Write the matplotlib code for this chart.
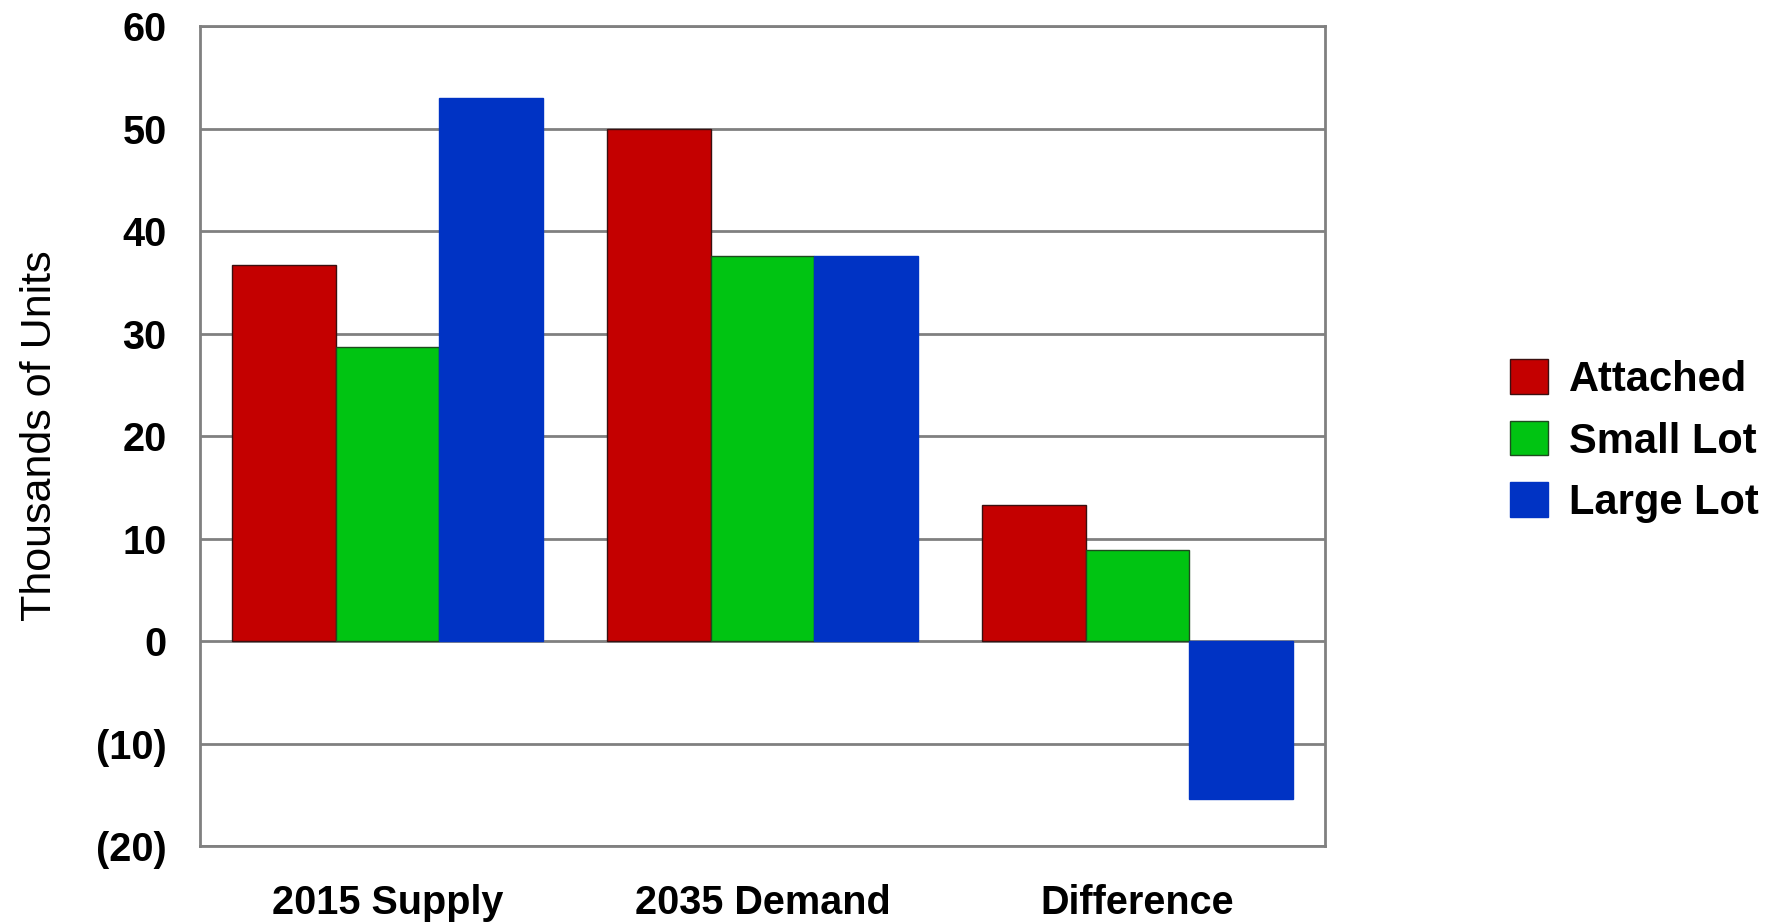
import matplotlib
matplotlib.use("Agg")
import matplotlib.pyplot as plt
import numpy as np

# housing units by type, thousands
categories = ["2015 Supply", "2035 Demand", "Difference"]
attached = [36.7, 50.0, 13.3]
small_lot = [28.7, 37.6, 8.9]
large_lot = [53.0, 37.6, -15.4]
series_names = ["Attached", "Small Lot", "Large Lot"]
colors = ["#C40000", "#00C412", "#0033C4"]
y_ticks = [60, 50, 40, 30, 20, 10, 0, -10, -20]
y_tick_labels = ["60", "50", "40", "30", "20", "10", "0", "(10)", "(20)"]

plt.rcParams["font.family"] = ["Liberation Sans", "DejaVu Sans"]

fig = plt.figure(figsize=(17.81, 9.23), dpi=100)
ax = fig.add_axes([0.1123, 0.0834, 0.6317, 0.8884])

x = np.arange(len(categories))
width = 0.276
series = [attached, small_lot, large_lot]
edges = ["#3a1010", "#1e4a1e", "#0033C4"]
for i, (vals, name, c, ec) in enumerate(zip(series, series_names, colors, edges)):
    ax.bar(x + (i - 1) * width, vals, width, color=c, edgecolor=ec,
           linewidth=1.0, label=name, zorder=3)

ax.set_xlim(-0.5, 2.5)
ax.set_ylim(-20, 60)
ax.set_yticks(y_ticks)
ax.set_yticklabels(y_tick_labels, fontsize=28.5, fontweight="bold")
ax.set_xticks(x)
ax.set_xticklabels(categories, fontsize=28.5, fontweight="bold")
ax.tick_params(axis="both", length=0)
ax.tick_params(axis="y", pad=24)
ax.tick_params(axis="x", pad=27)
ax.yaxis.grid(True, color="#808080", linewidth=2, zorder=0)
ax.set_axisbelow(True)
for s in ax.spines.values():
    s.set_color("#808080")
    s.set_linewidth(2)

ax.set_ylabel("Thousands of Units", fontsize=31,
              family=["Liberation Sans Narrow", "Liberation Sans"], labelpad=26)

fig.legend(loc="center left", bbox_to_anchor=(0.827, 0.522), frameon=False,
           prop={"size": 30, "weight": "bold"}, handlelength=0.9,
           handleheight=0.9, handletextpad=0.5, labelspacing=0.5)

fig.savefig("out.png", dpi=100)
